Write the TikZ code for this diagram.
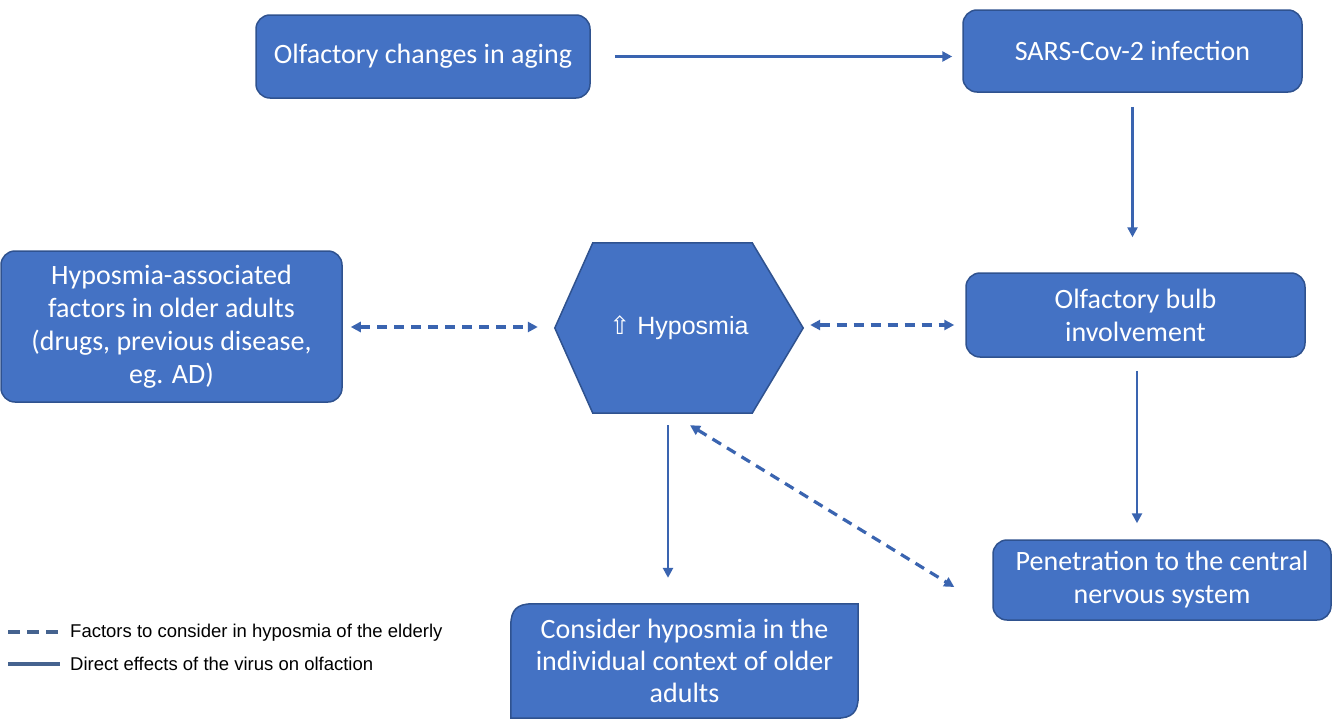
\documentclass[tikz,border=0pt]{standalone}
\usepackage{fontspec}
\setmainfont{Carlito}
\newfontfamily\arialf{Liberation Sans}
\newfontfamily\dejavuf{DejaVu Sans}
\usetikzlibrary{arrows.meta,backgrounds,calc}
\definecolor{boxblue}{HTML}{4472C4}
\definecolor{boxedge}{HTML}{2F528F}
\definecolor{arrowblue}{HTML}{3A64B0}
\definecolor{legendline}{HTML}{45638F}
\begin{document}
\begin{tikzpicture}[x=1pt,y=-1pt,
  box/.style={draw=boxedge,line width=1.5pt,fill=boxblue,rounded corners=14pt,text=white,
    font=\fontsize{28}{33}\selectfont,align=center,inner sep=0pt},
  plainbox/.style={text=white,font=\fontsize{28}{32}\selectfont,align=center,inner sep=0pt},
  shapefill/.style={draw=boxedge,line width=1.5pt,fill=boxblue},
  solidarrow/.style={arrowblue,line width=2.8pt,-{Triangle[width=10pt,length=10pt]}},
  dasharrow/.style={arrowblue,line width=3.2pt,dash pattern=on 10pt off 7pt,
    {Triangle[width=10pt,length=10pt]}-{Triangle[width=10pt,length=10pt]}},
  legdash/.style={legendline,line width=3.2pt,dash pattern=on 12pt off 7pt},
  legsolid/.style={legendline,line width=3.2pt},
  legtext/.style={anchor=west,font=\arialf\fontsize{18.5}{22}\selectfont,inner sep=0pt}]

\useasboundingbox (0,0) rectangle (1336,728);
\begin{scope}[on background layer]
  \fill[white] (0,0) rectangle (1336,728);
\end{scope}

% boxes
\node[box,minimum width=334pt,minimum height=83pt] (aging) at (423,56.5) {Olfactory changes in aging};
\node[box,minimum width=339pt,minimum height=82pt] (sars) at (1132.5,51) {SARS-Cov-2 infection};
\node[box,minimum width=339pt,minimum height=84pt] (bulb) at (1135.5,315) {Olfactory bulb\\involvement};
\node[box,minimum width=338pt,minimum height=80pt] (pen) at (1162,580) {Penetration to the central\\nervous system};
\node[box,minimum width=341pt,minimum height=151pt] (hyp) at (171.5,326.5)
  {Hyposmia-associated\\factors in older adults\\(drugs, previous disease,\\eg. AD)};

% hexagon
\node[text=white,font=\arialf\fontsize{25}{28}\selectfont,minimum width=248pt,minimum height=170pt,inner sep=0pt]
  (hypo) at (679,328) {{\dejavuf ⇧} Hyposmia};
\begin{scope}[on background layer]
  \path[shapefill] (hypo.west) -- ($(hypo.north west)+(38,0)$) -- ($(hypo.north east)+(-51,0)$)
    -- (hypo.east) -- ($(hypo.south east)+(-51,0)$) -- ($(hypo.south west)+(38,0)$) -- cycle;
\end{scope}

% consider box (two rounded corners)
\node[plainbox,minimum width=347pt,minimum height=114pt] (consider) at (684.5,661)
  {Consider hyposmia in the\\individual context of older\\adults};
\begin{scope}[on background layer]
  \path[shapefill] (consider.south west) -- ($(consider.north west)+(0,22)$)
    .. controls ($(consider.north west)+(0,6)$) and ($(consider.north west)+(6,0)$) .. ($(consider.north west)+(22,0)$)
    -- (consider.north east) -- ($(consider.south east)+(0,-22)$)
    .. controls ($(consider.south east)+(0,-6)$) and ($(consider.south east)+(-6,0)$) .. ($(consider.south east)+(-22,0)$) -- cycle;
\end{scope}

% connectors
\draw[solidarrow] ($(aging.east)+(24,0)$) -- ($(aging.east -| sars.west)+(-10,0)$);
\draw[solidarrow] ($(sars.south)+(0,14)$) -- ($(sars.south |- bulb.north)+(0,-35)$);
\draw[solidarrow] ($(bulb.south)+(1.5,13)$) -- ($(bulb.south |- pen.north)+(1.5,-16)$);
\draw[dasharrow] ($(hyp.east)+(8,0.5)$) -- ($(hyp.east -| hypo.west)+(-17,0.5)$);
\draw[dasharrow] ($(hypo.east)+(7,-3)$) -- ($(hypo.east -| bulb.west)+(-11,-3)$);
\draw[solidarrow] ($(hypo.south)+(-11,12)$) -- ($(hypo.south |- consider.north)+(-11,-26)$);
\draw[dasharrow] ($(hypo.south)+(11,12)$) -- ($(pen.west)+(-38,7)$);

% legend
\coordinate (l1a) at (8,632);
\coordinate (l1b) at (60,632);
\coordinate (l2a) at (8,664);
\coordinate (l2b) at (60,664);
\draw[legdash] (l1a) -- (l1b);
\draw[legsolid] (l2a) -- (l2b);
\node[legtext] (leg1) at (70,633) {Factors to consider in hyposmia of the elderly};
\node[legtext] (leg2) at (70,664) {Direct effects of the virus on olfaction};
\end{tikzpicture}
\end{document}
